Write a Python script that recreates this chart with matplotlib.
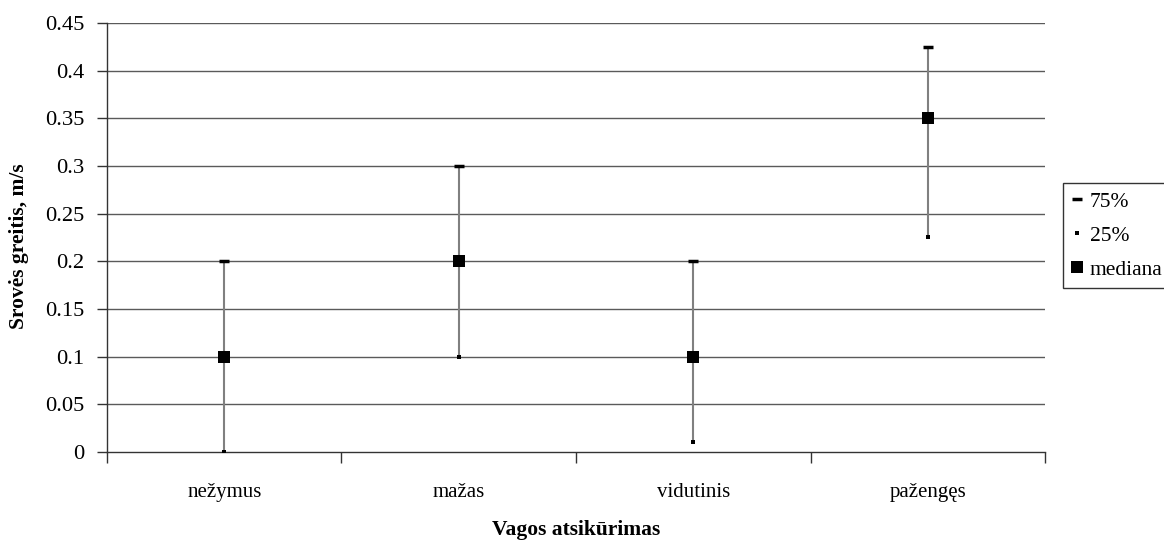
import matplotlib
matplotlib.use("Agg")
import matplotlib.pyplot as plt
from matplotlib.lines import Line2D

plt.rcParams['font.family'] = ['Liberation Serif', 'DejaVu Serif']

categories = ["nežymus", "mažas", "vidutinis", "pažengęs"]
q75 = [0.2, 0.3, 0.2, 0.425]
q25 = [0.0, 0.1, 0.01, 0.225]
median = [0.1, 0.2, 0.1, 0.35]
yticks = [0, 0.05, 0.1, 0.15, 0.2, 0.25, 0.3, 0.35, 0.4, 0.45]
ytick_labels = ["0", "0.05", "0.1", "0.15", "0.2", "0.25", "0.3", "0.35", "0.4", "0.45"]

fig = plt.figure(figsize=(11.64, 5.41), dpi=100)
ax = fig.add_axes([0.0919, 0.1645, 0.8059, 0.793])

x = list(range(len(categories)))

# horizontal grid lines
for yv in yticks[1:]:
    ax.axhline(yv, color="#5a5a5a", lw=1.0, zorder=1)

# high-low lines between quartiles
ax.vlines(x, q25, q75, color="#808080", lw=1.5, zorder=2)
ax.plot(x, q75, ls="none", marker="_", ms=7, mew=2.5, color="black", zorder=3)
ax.plot(x, q25, ls="none", marker="s", ms=2.2, mew=0, color="black", zorder=3)
ax.plot(x, median, ls="none", marker="s", ms=9, mew=0, color="black", zorder=4)

ax.set_xlim(-0.5, len(categories) - 0.5)
ax.set_ylim(0, 0.45)
ax.set_yticks(yticks)
ax.set_yticklabels(ytick_labels, fontsize=16.2)
ax.set_xticks(x)
ax.set_xticklabels(categories, fontsize=15)
ax.tick_params(axis="x", length=0, pad=22)
# category boundary ticks on the x axis
ax.set_xticks([i - 0.5 for i in range(len(categories) + 1)], minor=True)
ax.tick_params(axis="x", which="minor", direction="out", length=8, width=1, color="#333333")
ax.tick_params(axis="y", direction="out", length=7, width=1, color="#333333", pad=9)

for s in ["top", "right"]:
    ax.spines[s].set_visible(False)
for s in ["left", "bottom"]:
    ax.spines[s].set_color("#333333")
    ax.spines[s].set_linewidth(1)

ax.set_ylabel("Srovės greitis, m/s", fontsize=15.5, fontweight="bold")
ax.yaxis.set_label_coords(-0.083, 0.48)
ax.set_xlabel("Vagos atsikūrimas", fontsize=15.5, fontweight="bold")
ax.xaxis.set_label_coords(0.5, -0.158)

handles = [
    Line2D([], [], ls="none", marker="_", ms=7, mew=2.5, color="black"),
    Line2D([], [], ls="none", marker="s", ms=2.2, mew=0, color="black"),
    Line2D([], [], ls="none", marker="s", ms=9, mew=0, color="black"),
]
leg = fig.legend(handles, ["75%", "25%", "mediana"], loc="upper left",
                 bbox_to_anchor=(0.913, 0.662), fontsize=15.5, frameon=True,
                 fancybox=False, handlelength=0.5, handletextpad=0.35,
                 borderpad=0.4, labelspacing=0.65, borderaxespad=0)
leg.get_frame().set_edgecolor("black")
leg.get_frame().set_linewidth(1)

fig.savefig("out.png", dpi=100)
